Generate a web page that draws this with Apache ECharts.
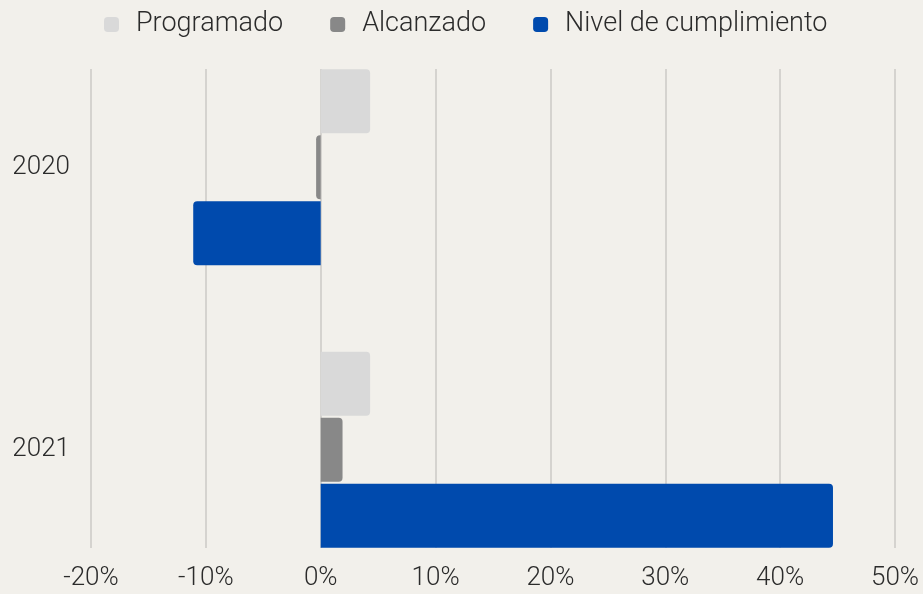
<!DOCTYPE html>
<html>
<head>
<meta charset="utf-8">
<script src="https://cdn.jsdelivr.net/npm/echarts@6/dist/echarts.min.js"></script>
<style>
  html, body { margin: 0; padding: 0; background: #f2f0eb; }
  #chart { width: 923px; height: 594px; }
</style>
</head>
<body>
<div id="chart"></div>
<script>
// Datos del gráfico (porcentajes)
const years = ['2020', '2021'];
const programado = [4.3, 4.3];
const alcanzado = [-0.4, 1.9];
const nivelCumplimiento = [-11.1, 44.6];
const seriesNames = ['Programado', 'Alcanzado', 'Nivel de cumplimiento'];
const xTicks = { min: -20, max: 50, step: 10 };

const colors = ['#d9d9d9', '#888888', '#004aad'];
const fontFamily = 'Roboto, "Noto Sans", sans-serif';
const textColor = '#2b2b2b';

// redondeo solo del extremo exterior de la barra
function toItems(values) {
    return values.map(function(v) {
        return {
            value: v,
            itemStyle: { borderRadius: v >= 0 ? [0, 4, 4, 0] : [4, 0, 0, 4] }
        };
    });
}

function initChart() {
    const chartDom = document.getElementById('chart');
    const chart = echarts.init(chartDom);

    const option = {
        backgroundColor: '#f2f0eb',
        animation: false,
        textStyle: { fontFamily: fontFamily },
        color: colors,
        legend: {
            data: seriesNames,
            top: 11,
            left: 104,
            padding: 0,
            icon: 'roundRect',
            itemWidth: 15,
            itemHeight: 15,
            itemGap: 47,
            textStyle: {
                fontFamily: fontFamily,
                fontSize: 27,
                fontWeight: 300,
                color: textColor,
                padding: [0, 0, 0, 12]
            }
        },
        grid: [
            // grid de las barras
            { left: 91, right: 28, top: 26, bottom: 3, containLabel: false },
            // grid de las líneas y etiquetas del eje x
            { left: 91, right: 28, top: 69, bottom: 46, containLabel: false }
        ],
        xAxis: [
            {
                gridIndex: 0,
                type: 'value',
                min: xTicks.min,
                max: xTicks.max,
                interval: xTicks.step,
                axisLabel: { show: false },
                axisLine: { show: false },
                axisTick: { show: false },
                splitLine: { show: false }
            },
            {
                gridIndex: 1,
                type: 'value',
                min: xTicks.min,
                max: xTicks.max,
                interval: xTicks.step,
                axisLabel: {
                    formatter: '{value}%',
                    fontFamily: fontFamily,
                    fontSize: 26,
                    fontWeight: 300,
                    color: textColor,
                    margin: 17
                },
                axisLine: { show: false },
                axisTick: { show: false },
                splitLine: {
                    lineStyle: { color: '#cbcac6', width: 1.5 }
                }
            }
        ],
        yAxis: [
            {
                gridIndex: 0,
                type: 'category',
                data: years,
                inverse: true,
                axisLabel: {
                    fontFamily: fontFamily,
                    fontSize: 26,
                    fontWeight: 300,
                    color: textColor,
                    margin: 21,
                    padding: [4, 0, 0, 0]
                },
                axisLine: { show: false },
                axisTick: { show: false },
                splitLine: { show: false }
            },
            {
                gridIndex: 1,
                type: 'value',
                show: false,
                min: 0,
                max: 1,
                splitLine: { show: false }
            }
        ],
        series: [
            {
                name: seriesNames[0],
                type: 'bar',
                xAxisIndex: 0,
                yAxisIndex: 0,
                barWidth: 64,
                barGap: '3%',
                data: toItems(programado)
            },
            {
                name: seriesNames[1],
                type: 'bar',
                xAxisIndex: 0,
                yAxisIndex: 0,
                barWidth: 64,
                barGap: '3%',
                data: toItems(alcanzado)
            },
            {
                name: seriesNames[2],
                type: 'bar',
                xAxisIndex: 0,
                yAxisIndex: 0,
                barWidth: 64,
                barGap: '3%',
                data: toItems(nivelCumplimiento)
            }
        ]
    };

    chart.setOption(option);
}

document.addEventListener('DOMContentLoaded', initChart);
</script>
</body>
</html>
